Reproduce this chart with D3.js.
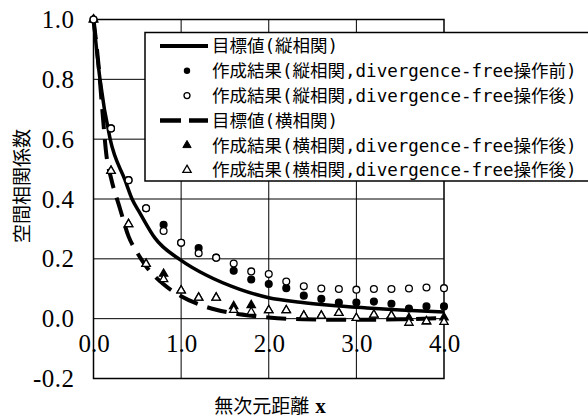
<!DOCTYPE html>
<html>
<head>
<meta charset="utf-8">
<script src="https://cdn.jsdelivr.net/npm/d3@7"></script>
<style>
  html, body { margin: 0; padding: 0; background: #fff; }
  svg { display: block; }
</style>
</head>
<body>
<svg id="chart" width="588" height="420"></svg>
<script>
// ---- data ----
const xTicks = [0, 1, 2, 3, 4];
const yTicks = [-0.2, 0.0, 0.2, 0.4, 0.6, 0.8, 1.0];
const xGrid = [1, 2, 3];
const yGrid = [0.0, 0.2, 0.4, 0.6, 0.8];

// target curves
const targetLongX = [0, 0.074, 0.19, 0.36, 0.44, 0.53, 0.7, 1.0, 1.29, 1.67, 2.0, 2.36, 2.7, 3.12, 3.5, 4.0];
const targetLongY = [1.0, 0.80, 0.60, 0.463, 0.40, 0.353, 0.27, 0.195, 0.145, 0.098, 0.07, 0.055, 0.045, 0.036, 0.029, 0.022];
const targetTransX = [0, 0.06, 0.1, 0.15, 0.2, 0.3, 0.4, 0.5, 0.6, 0.8, 1.0, 1.2, 1.4, 1.6, 1.8, 2.0, 2.4, 3.0, 3.5, 4.0];
const targetTransY = [1.0, 0.84, 0.70, 0.54, 0.47, 0.37, 0.275, 0.22, 0.175, 0.115, 0.075, 0.048, 0.03, 0.018, 0.01, 0.004, -0.002, -0.004, -0.002, 0.002];

// generated results
const ptX = [0, 0.2, 0.4, 0.6, 0.8, 1.0, 1.2, 1.4, 1.6, 1.8, 2.0, 2.2, 2.4, 2.6, 2.8, 3.0, 3.2, 3.4, 3.6, 3.8, 4.0];
const longBefore = [1.0, 0.636, 0.463, 0.369, 0.314, 0.254, 0.236, 0.204, 0.16, 0.131, 0.116, 0.102, 0.077, 0.066, 0.054, 0.054, 0.057, 0.05, 0.034, 0.041, 0.041];
const longAfter  = [1.0, 0.636, 0.463, 0.369, 0.293, 0.254, 0.219, 0.204, 0.184, 0.158, 0.149, 0.124, 0.108, 0.101, 0.099, 0.097, 0.099, 0.099, 0.101, 0.104, 0.102];
const transFilled = [1.0, 0.494, 0.316, 0.183, 0.15, 0.094, 0.07, 0.07, 0.042, 0.045, 0.028, 0.028, 0.01, 0.01, 0.019, 0.002, 0.013, 0.01, 0.002, -0.009, 0.004];
const transOpen   = [1.0, 0.494, 0.316, 0.183, 0.132, 0.094, 0.07, 0.07, 0.029, 0.022, 0.028, 0.028, 0.01, 0.01, 0.019, 0.002, 0.013, 0.01, -0.014, -0.009, -0.011];

const legendLabels = [
  "目標値(縦相関)",
  "作成結果(縦相関,divergence-free操作前)",
  "作成結果(縦相関,divergence-free操作後)",
  "目標値(横相関)",
  "作成結果(横相関,divergence-free操作後)",
  "作成結果(横相関,divergence-free操作後)"
];
const yTitle = "空間相関係数";
const xTitle = "無次元距離";

// ---- layout ----
const svg = d3.select("#chart");
const L = 93.5, R = 444, T = 19.5, B = 378.5;
const x = d3.scaleLinear().domain([0, 4]).range([L, R]);
const y = d3.scaleLinear().domain([-0.2, 1.0]).range([B, T]);
const serif = "'Liberation Serif','Times New Roman',serif";
const cjk = "'Noto Sans CJK JP','Noto Sans CJK SC',sans-serif";

// grid
const grid = svg.append("g").attr("stroke", "#000").attr("stroke-width", 1);
grid.selectAll("line.v").data(xGrid).join("line")
  .attr("x1", d => x(d)).attr("x2", d => x(d)).attr("y1", T).attr("y2", B);
grid.selectAll("line.h").data(yGrid).join("line")
  .attr("x1", L).attr("x2", R).attr("y1", d => y(d)).attr("y2", d => y(d));
svg.append("rect").attr("x", L).attr("y", T).attr("width", R - L).attr("height", B - T)
  .attr("fill", "none").attr("stroke", "#000").attr("stroke-width", 1.5);

// y axis labels
const yAxis = d3.axisLeft(y).tickValues(yTicks).tickSize(0).tickPadding(19).tickFormat(d3.format(".1f"));
const gy = svg.append("g").attr("transform", `translate(${L},0)`).call(yAxis);
gy.select(".domain").remove();
gy.selectAll("text").attr("font-family", serif).attr("font-size", 25).attr("fill", "#000")
  .attr("letter-spacing", 0.5)
  .text(d => d3.format(".1f")(d).replace("−", "-"));

// x axis labels (inside plot, below 0.0)
const xAxis = d3.axisBottom(x).tickValues(xTicks).tickSize(0).tickPadding(0).tickFormat(d3.format(".1f"));
const gx = svg.append("g").attr("transform", `translate(0,${y(0) + 26})`).call(xAxis);
gx.select(".domain").remove();
gx.selectAll("text").attr("font-family", serif).attr("font-size", 25).attr("fill", "#000").attr("dy", "0.3em");

// titles
svg.append("text").attr("transform", "translate(29,186) rotate(-90)")
  .attr("text-anchor", "middle").attr("font-family", cjk).attr("font-size", 19).attr("fill", "#000")
  .text(yTitle);
const xt = svg.append("text").attr("x", 270).attr("y", 413).attr("text-anchor", "middle")
  .attr("font-family", cjk).attr("font-size", 19).attr("fill", "#000");
xt.append("tspan").text(xTitle);
xt.append("tspan").attr("font-family", serif).attr("font-weight", "bold").attr("font-size", 21).attr("dx", 6).text("x");

// curves
const line = d3.line().x(d => x(d[0])).y(d => y(d[1])).curve(d3.curveMonotoneX);
svg.append("path").datum(d3.zip(targetTransX, targetTransY)).attr("d", line)
  .attr("fill", "none").attr("stroke", "#000").attr("stroke-width", 4).attr("stroke-dasharray", "20,10");
svg.append("path").datum(d3.zip(targetLongX, targetLongY)).attr("d", line)
  .attr("fill", "none").attr("stroke", "#000").attr("stroke-width", 3.5);

// points
const tri = d3.symbol().type(d3.symbolTriangle).size(30);
function tris(vals, fill) {
  svg.append("g").selectAll("path").data(d3.zip(ptX, vals)).join("path")
    .attr("d", tri).attr("transform", d => `translate(${x(d[0])},${y(d[1])})`)
    .attr("fill", fill).attr("stroke", "#000").attr("stroke-width", 1.3);
}
function circs(vals, fill) {
  svg.append("g").selectAll("circle").data(d3.zip(ptX, vals)).join("circle")
    .attr("cx", d => x(d[0])).attr("cy", d => y(d[1])).attr("r", 3.4)
    .attr("fill", fill).attr("stroke", "#000").attr("stroke-width", 1.3);
}
tris(transFilled, "#000");
tris(transOpen, "#fff");
circs(longBefore, "#000");
circs(longAfter, "#fff");

// legend
const lg = svg.append("g");
lg.append("rect").attr("x", 145).attr("y", 32.5).attr("width", 460).attr("height", 148.5)
  .attr("fill", "#fff").attr("stroke", "#000").attr("stroke-width", 1.5);
const rowY = i => 46 + i * 24.8;
lg.append("line").attr("x1", 160).attr("x2", 208).attr("y1", rowY(0)).attr("y2", rowY(0))
  .attr("stroke", "#000").attr("stroke-width", 4);
lg.append("line").attr("x1", 160).attr("x2", 208).attr("y1", rowY(3)).attr("y2", rowY(3))
  .attr("stroke", "#000").attr("stroke-width", 4.5).attr("stroke-dasharray", "21,8");
lg.append("circle").attr("cx", 187).attr("cy", rowY(1)).attr("r", 3.2).attr("fill", "#000");
lg.append("circle").attr("cx", 187).attr("cy", rowY(2)).attr("r", 3).attr("fill", "#fff").attr("stroke", "#000").attr("stroke-width", 1.3);
lg.append("path").attr("d", tri).attr("transform", `translate(187,${rowY(4)})`).attr("fill", "#000").attr("stroke", "#000").attr("stroke-width", 1);
lg.append("path").attr("d", tri).attr("transform", `translate(187,${rowY(5)})`).attr("fill", "#fff").attr("stroke", "#000").attr("stroke-width", 1.3);
lg.selectAll("text").data(legendLabels).join("text")
  .attr("x", 212).attr("y", (d, i) => rowY(i)).attr("dy", "0.36em")
  .attr("font-family", "'DejaVu Sans Mono','Noto Sans CJK JP',monospace").attr("font-size", 17.5).attr("fill", "#000")
  .text(d => d);
</script>
</body>
</html>
